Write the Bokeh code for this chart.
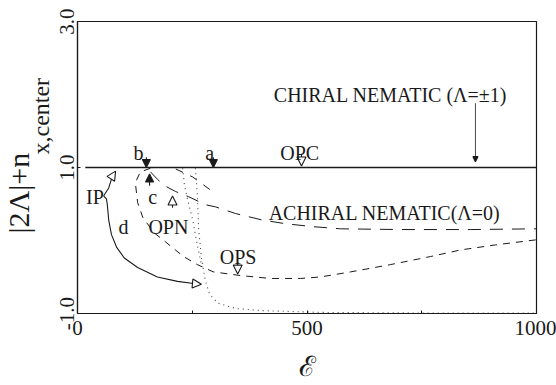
import math

from bokeh.plotting import figure
from bokeh.models import Label, Arrow, NormalHead, FixedTicker, Title
from bokeh.embed import file_html
from bokeh.resources import INLINE

# ---- curves (E on x, |2Λ|+n_x,center on y) ----
chiral_x = [17, 1000]
chiral_y = [1.0, 1.0]

achiral_x = [159, 174, 187, 214, 242, 279, 301, 344, 403, 453, 512, 573, 704, 856, 1000]
achiral_y = [0.94, 0.84, 0.76, 0.67, 0.60, 0.49, 0.46, 0.37, 0.28, 0.23, 0.19, 0.16, 0.15, 0.15, 0.16]

branch_x = [214, 251, 290]
branch_y = [0.98, 0.87, 0.69]

ops_x = [159, 137, 126, 131, 142, 166, 192, 231, 261, 296, 355, 420, 486, 529, 595, 682, 769, 834, 911, 1000]
ops_y = [0.99, 0.94, 0.79, 0.52, 0.32, 0.11, -0.02, -0.22, -0.33, -0.43, -0.48, -0.52, -0.52, -0.50,
         -0.43, -0.33, -0.22, -0.13, -0.06, 0.01]

dot_a_x = [229, 233, 240, 251, 261, 270]
dot_a_y = [0.99, 0.76, 0.56, 0.28, -0.06, -0.33]

dot_b_x = [257, 261, 264, 270, 279, 288, 307, 344, 399, 529, 747, 1000]
dot_b_y = [0.99, 0.63, 0.15, -0.24, -0.56, -0.74, -0.86, -0.93, -0.96, -0.985, -0.993, -0.993]

ip_x = [76, 72, 68, 61, 57, 63, 65, 68, 74, 85, 102, 131, 174, 218, 253]
ip_y = [0.88, 0.80, 0.72, 0.65, 0.61, 0.57, 0.49, 0.28, 0.08, -0.09, -0.24, -0.37, -0.50, -0.56, -0.59]

x_ticks = [0, 250, 500, 750, 1000]
x_tick_labels = {0: "0", 250: "", 500: "500", 750: "", 1000: "1000"}
y_ticks = [-1, 1, 3]
y_tick_labels = {-1: "-1.0", 1: "1.0", 3: "3.0"}

SERIF = "Liberation Serif"
INK = "#1a1a1a"

p = figure(width=556, height=385, x_range=(0, 1000), y_range=(-1, 3), title=None,
           output_backend="svg", toolbar_location=None,
           min_border_left=77, min_border_right=20, min_border_top=21, min_border_bottom=71)
p.grid.visible = False
p.background_fill_color = "white"
p.border_fill_color = "white"
p.outline_line_color = INK
p.outline_line_width = 1.2

p.xaxis.ticker = FixedTicker(ticks=x_ticks)
p.xaxis.major_label_overrides = x_tick_labels
p.yaxis.ticker = FixedTicker(ticks=y_ticks)
p.yaxis.major_label_overrides = y_tick_labels
p.yaxis.major_label_orientation = "parallel"
for ax in (p.xaxis, p.yaxis):
    ax.axis_line_color = INK
    ax.axis_line_width = 1.2
    ax.major_tick_in = 3
    ax.major_tick_out = 0
    ax.major_tick_line_color = INK
    ax.minor_tick_line_color = None
    ax.major_label_text_font = SERIF
    ax.major_label_text_font_size = "21px"
    ax.major_label_text_color = INK
p.xaxis.major_label_standoff = 7
p.yaxis.major_label_standoff = 4

# x axis title: script E
p.xaxis.axis_label = "ℰ"
p.xaxis.axis_label_text_font = "DejaVu Serif"
p.xaxis.axis_label_text_font_style = "normal"
p.xaxis.axis_label_text_font_size = "28px"
p.xaxis.axis_label_text_color = INK
p.xaxis.axis_label_standoff = 12

# y axis title, set as two side titles: main part and subscript
y_sub = Title(text="x,center", align="left", offset=159, standoff=5,
              text_font=SERIF, text_font_size="24px", text_font_style="normal", text_color=INK)
y_main = Title(text="|2Λ|+n", align="left", offset=80, standoff=-23,
               text_font=SERIF, text_font_size="30px", text_font_style="normal", text_color=INK)
p.add_layout(y_sub, "left")
p.add_layout(y_main, "left")

# ---- curves ----
p.line(chiral_x, chiral_y, line_color=INK, line_width=1.4)
p.line(achiral_x, achiral_y, line_color=INK, line_width=1.0, line_dash="13 9")
p.line(branch_x, branch_y, line_color=INK, line_width=1.0, line_dash="8 8")
p.line(ops_x, ops_y, line_color=INK, line_width=1.0, line_dash="7 6")
p.line(dot_a_x, dot_a_y, line_color="#444444", line_width=1.1, line_dash="1 4")
p.line(dot_b_x, dot_b_y, line_color="#444444", line_width=1.1, line_dash="1 4")
p.line(ip_x, ip_y, line_color=INK, line_width=1.1)


def arrow(x0, y0, x1, y1, filled, size=9, width=1.1):
    head = NormalHead(size=size, line_color=INK, line_width=1.1,
                      fill_color=INK if filled else "white")
    p.add_layout(Arrow(end=head, x_start=x0, y_start=y0, x_end=x1, y_end=y1,
                       line_color=INK, line_width=width))


# ends of the IP path
arrow(ip_x[0], ip_y[0], 83, 0.95, filled=False)
arrow(ip_x[-1], ip_y[-1], 270, -0.60, filled=False)
# point markers
arrow(150, 1.14, 150, 1.0, filled=True, size=8)      # b
arrow(296, 1.14, 296, 1.0, filled=True, size=8)      # a
arrow(157, 0.75, 157, 0.91, filled=True, size=8)     # c
arrow(207, 0.45, 207, 0.61, filled=False, size=9)    # OPN
arrow(488, 1.19, 488, 1.02, filled=False, size=9)    # OPC
arrow(349, -0.29, 349, -0.46, filled=False, size=9)  # OPS
arrow(867, 1.88, 867, 1.08, filled=True, size=5, width=0.8)


def label(x, y, text, size="20px", align="center", baseline="alphabetic"):
    p.add_layout(Label(x=x, y=y, text=text, text_font=SERIF, text_font_size=size,
                       text_color=INK, text_align=align, text_baseline=baseline))


label(682, 1.99, "CHIRAL NEMATIC (Λ=±1)")
label(669, 0.38, "ACHIRAL NEMATIC(Λ=0)")
label(484, 1.20, "OPC")
label(198, 0.19, "OPN")
label(350, -0.22, "OPS")
label(38, 0.60, "IP")
label(100, 0.19, "d")
label(164, 0.60, "c")
label(133, 1.20, "b")
label(288, 1.20, "a")

open("out.html", "w").write(file_html(p, INLINE))
